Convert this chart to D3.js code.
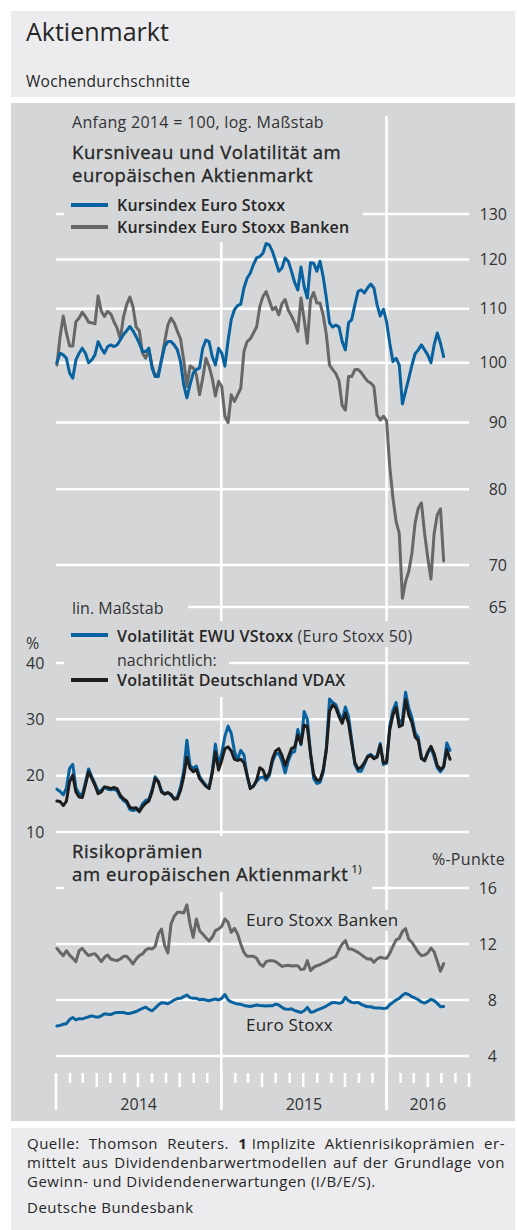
<!DOCTYPE html>
<html>
<head>
<meta charset="utf-8">
<script src="https://cdn.jsdelivr.net/npm/d3@7"></script>
<style>
  body { margin: 0; background: #fff; }
  svg { display: block; font-family: "Open Sans", "Noto Sans", sans-serif; }
</style>
</head>
<body>
<svg id="chart"></svg>
<script>
// Wochendurchschnitte, erste Woche = Freitag 3.1.2014
const weeks = d3.timeFriday.range(new Date(2014, 0, 3), new Date(2016, 7, 1));

// Kursindex, Anfang 2014 = 100 (log. Maßstab)
const kursEuroStoxx = [
  100, 101.7, 101.4, 100.8, 98.2, 97.3, 100.5, 101.7, 102.6, 101.7,
  100, 100.5, 101.4, 103.8, 102.6, 101.7, 102.9, 103.2, 102.9, 103.2,
  104.1, 105.1, 105.8, 106.6, 105.8, 104.7, 103.5, 102, 102, 102.6,
  99.1, 97.6, 97.6, 100.5, 102.9, 103.8, 103.8, 103.2, 102.3, 100.2,
  96.2, 94, 96.2, 98.2, 98.8, 99.1, 102.6, 104.1, 103.8, 101.1,
  99.6, 102.6, 101.7, 99.4, 104, 107.9, 109.8, 110.6, 110.9, 114.1,
  116.1, 117.1, 118.9, 120.3, 120.6, 121.3, 123.4, 123.1, 121.7, 119.6,
  117.5, 118.2, 120.3, 119.6, 117.5, 115.2, 113.7, 118.4, 114.4, 112.1,
  119.3, 119.2, 117.5, 119.6, 116.4, 112.1, 107.3, 106.5, 106.9, 106.5,
  103.8, 102.3, 107.3, 107.9, 110.8, 113.4, 113.7, 113.1, 114.1, 114.9,
  114.1, 110.8, 108.6, 109.9, 107.5, 103.5, 100.2, 100.8, 99.6, 93,
  95.1, 97.3, 99.6, 101.6, 102.3, 103.2, 102.3, 101.4, 100, 103.2,
  105.4, 103.5, 101.1
];
const kursBanken = [
  99.6, 104.7, 108.6, 105.4, 103, 103, 107.5, 108.2, 109.3, 108.5,
  107.4, 107.3, 107.1, 112.5, 109.5, 108.5, 109.5, 109, 107.5, 106.3,
  104.3, 108.4, 110.8, 112.3, 110.4, 106.5, 105.8, 101.7, 100.8, 102.4,
  99.6, 97.6, 98.2, 100.5, 103.8, 106.9, 108.2, 107.3, 105.7, 104.3,
  100.5, 95.9, 99.4, 99.1, 97.9, 94.5, 97.3, 100.8, 99.4, 97.3,
  94.3, 96.8, 95.9, 91, 90, 94.5, 93.4, 94.5, 95.6, 102,
  103.8, 104.3, 105.4, 106.5, 110.4, 112.4, 113.4, 111.6, 109.8, 110.3,
  108.8, 111, 111.8, 109.7, 108.6, 107.3, 105.7, 112.1, 107.9, 103.5,
  111.8, 113.2, 111.1, 111.1, 108.8, 105.1, 99.6, 98.8, 98.1, 96.8,
  92.7, 92, 97.6, 97.6, 98.8, 98.8, 98.3, 97.5, 96.8, 96.5,
  95.9, 91.2, 90.4, 91, 90.3, 83.3, 78.8, 75.6, 74, 66,
  68, 69.2, 71.5, 75.4, 77.4, 78.1, 74, 70.9, 68.3, 74,
  76.5, 77.3, 70.5
];

// Volatilität in % (lin. Maßstab)
const volVStoxx = [
  17.6, 17.2, 16.6, 17.8, 21.3, 22, 17.8, 16.8, 16.5, 18.8,
  21.2, 19.8, 18.6, 17.2, 17.4, 18, 17.6, 17.5, 17.6, 17.3,
  16.2, 15.6, 15.2, 14, 13.8, 14, 13.8, 15, 15.6, 15.8,
  17.4, 19.8, 19, 17.3, 16.8, 17, 16.5, 15.9, 16.2, 18,
  20.8, 26.3, 21.8, 21.3, 21.7, 19.9, 19, 18.3, 17.9, 20.8,
  25.6, 21.8, 24, 27, 28.8, 27.5, 24.4, 22.8, 24.5, 23.7,
  20, 17.8, 18.2, 19, 19.6, 19.8, 19.2, 20, 22.5, 23.8,
  24, 22.6, 20.5, 22.6, 24, 24.3, 28.2, 25.5, 31.4, 30,
  24, 19.5, 18.6, 18.8, 20.6, 25, 33.6, 33, 32.6, 31,
  29.8, 32.2, 30.5, 26.3, 22, 20.8, 20.8, 22, 23.5, 23.8,
  23.2, 23.5, 25.7, 22, 22.2, 28.8, 31.6, 33, 29.3, 30,
  34.8, 32, 30.3, 27.6, 26.8, 23.2, 22.6, 24, 25, 23.3,
  21.4, 20.7, 21.5, 25.8, 24.5
];
const volVDAX = [
  15.5, 15.4, 14.7, 15.5, 18.9, 20.1, 17.1, 16.2, 16.1, 18.3,
  20.7, 19.5, 18.3, 16.8, 17.1, 18, 17.9, 17.7, 17.9, 17.7,
  16.5, 15.9, 15.5, 14.4, 14.2, 14.3, 13.6, 14.5, 15.1, 15.5,
  17.1, 19.5, 18.9, 17.1, 16.7, 17, 16.7, 15.8, 15.9, 17.4,
  19.8, 23.3, 21.3, 20.7, 21.1, 19.5, 18.8, 18.1, 17.7, 20.4,
  24.2, 21, 22.7, 24.8, 25.1, 24.4, 22.9, 22.7, 22.9, 22.3,
  20.1, 17.7, 18.1, 19.2, 21.4, 21, 19.6, 20.4, 23, 24.4,
  24.8, 23.6, 21.8, 23.3, 24.8, 25.1, 27.2, 25.7, 29, 28.7,
  23.9, 20.2, 19.2, 19.2, 21, 24.5, 31.4, 32.6, 32, 30.5,
  29.3, 31.1, 29.3, 25.7, 22.3, 21.2, 21.5, 22.3, 23.3, 23.6,
  23, 23.3, 25.4, 22.3, 22.4, 28.1, 30.8, 32.1, 28.7, 29,
  33.5, 30.8, 29.4, 26.9, 26.2, 23, 22.7, 24.2, 25.2, 23.9,
  21.8, 21.1, 21.6, 24.6, 22.9
];

// Risikoprämien in %-Punkten
const praemieBanken = [
  11.69, 11.4, 11.17, 11.52, 11.2, 10.98, 10.74, 11.52, 11.69, 11.4,
  11.17, 11.26, 11.31, 11.05, 10.74, 11.05, 11.21, 10.93, 10.86, 10.81,
  10.93, 11.12, 11.12, 10.88, 10.57, 10.93, 11.17, 11.29, 11.57, 11.69,
  11.64, 11.83, 12.71, 13.07, 11.88, 11.36, 13.43, 13.98, 14.26, 14.26,
  14.21, 14.8, 13.43, 12.48, 13.79, 12.95, 12.71, 12.45, 12.21, 12.48,
  12.95, 13.07, 13.26, 13.79, 13.55, 12.83, 13.12, 12.71, 12, 11.4,
  11.12, 11.12, 11.12, 10.98, 10.57, 10.4, 10.74, 10.81, 10.81, 10.74,
  10.57, 10.4, 10.45, 10.48, 10.43, 10.45, 10.45, 10.17, 10.21, 10.81,
  10.1, 10.33, 10.45, 10.52, 10.64, 10.74, 10.88, 11, 11.12, 11.6,
  12, 12.24, 11.64, 11.64, 11.52, 11.4, 11.24, 11.07, 10.93, 10.95,
  10.69, 10.93, 11.05, 11, 10.98, 11.33, 11.83, 12.29, 12.4, 12.9,
  13.1, 12.33, 12.12, 11.76, 11.4, 11.17, 11.21, 11.36, 11.71, 11.45,
  10.76, 10.05, 10.6
];
const praemieEuroStoxx = [
  6.14, 6.19, 6.27, 6.31, 6.6, 6.75, 6.58, 6.67, 6.65, 6.72,
  6.8, 6.87, 6.8, 6.77, 6.87, 7.01, 6.99, 6.96, 7.06, 7.11,
  7.11, 7.11, 7.04, 7.04, 7.11, 7.18, 7.3, 7.4, 7.49, 7.33,
  7.23, 7.42, 7.64, 7.81, 7.78, 7.73, 7.86, 8, 8.1, 8.12,
  8.24, 8.36, 8.17, 8.12, 8.12, 8.02, 8.05, 8, 7.95, 8.02,
  8.07, 8, 8.12, 8.39, 8, 7.86, 7.78, 7.71, 7.69, 7.61,
  7.57, 7.54, 7.59, 7.64, 7.61, 7.59, 7.57, 7.59, 7.59, 7.71,
  7.64, 7.47, 7.35, 7.33, 7.37, 7.25, 7.18, 7.11, 7.23, 7.47,
  7.13, 7.16, 7.28, 7.37, 7.45, 7.57, 7.71, 7.83, 7.81, 7.76,
  7.83, 8.19, 7.95, 7.83, 7.81, 7.83, 7.69, 7.59, 7.52, 7.52,
  7.45, 7.42, 7.42, 7.4, 7.42, 7.66, 7.83, 8, 8.12, 8.34,
  8.48, 8.39, 8.24, 8.14, 8.02, 7.86, 7.78, 7.9, 8.05, 7.95,
  7.76, 7.52, 7.54
];

// Achsenbeschriftungen
const kursTicks = [130, 120, 110, 100, 90, 80, 70, 65];
const volTicks = [40, 30, 20, 10];
const praemieTicks = [16, 12, 8, 4];
const jahre = ["2014", "2015", "2016"];

// Farben
const panelFill = "#d5d6d8";
const boxFill = "#ececee";
const blau = "#0862a0";
const grau = "#676767";
const schwarz = "#1d1d1d";
const textFill = "#262626";

const svg = d3.select("#chart").attr("width", 517).attr("height", 1230);

// Hintergründe
svg.append("rect").attr("x", 11).attr("y", 11).attr("width", 504).attr("height", 86).attr("fill", boxFill);
svg.append("rect").attr("x", 11).attr("y", 103).attr("width", 504).attr("height", 1018).attr("fill", panelFill);
svg.append("rect").attr("x", 11).attr("y", 1128).attr("width", 504).attr("height", 102).attr("fill", boxFill);

// Skalen
const x = d3.scaleTime()
  .domain([new Date(2014, 0, 1), new Date(2016, 6, 1)])
  .range([56, 469]);
const yKurs = d3.scaleLog().domain([65, 130]).range([607, 214]);
const yVol = d3.scaleLinear().domain([10, 40]).range([832, 663]);
const yPraemie = d3.scaleLinear().domain([4, 16]).range([1056, 888]);

const grid = svg.append("g").attr("stroke", "#fff").attr("stroke-width", 2.5);

// horizontale Gitterlinien
[[yKurs, kursTicks], [yVol, volTicks], [yPraemie, praemieTicks]].forEach(([scale, ticks]) => {
  grid.selectAll(null).data(ticks).enter().append("line")
    .attr("x1", x.range()[0]).attr("x2", x.range()[1])
    .attr("y1", d => scale(d)).attr("y2", d => scale(d));
});

// Jahresgrenzen über die ganze Höhe
const jahresStart = [new Date(2015, 0, 1), new Date(2016, 0, 1)];
grid.selectAll(null).data(jahresStart).enter().append("line")
  .attr("x1", d => x(d)).attr("x2", d => x(d))
  .attr("y1", 116).attr("y2", 1110);

// Monatsstriche unten
const monate = d3.timeMonth.range(new Date(2014, 0, 1), new Date(2016, 6, 2));
grid.selectAll(null).data(monate).enter().append("line")
  .attr("x1", d => x(d)).attr("x2", d => x(d))
  .attr("y1", 1073)
  .attr("y2", d => d.getMonth() === 0 ? 1110 : (d.getMonth() % 3 === 0 ? 1087 : 1083));

// Flächen hinter Legenden und Überschriften (verdecken das Gitter)
const masken = [
  [64, 113, 299, 129],   // Anfang 2014 ... / Überschrift / Legende
  [56, 596, 132, 22],    // lin. Maßstab
  [64, 621, 362, 26],    // VStoxx
  [64, 647, 165, 24],    // nachrichtlich:
  [64, 671, 298, 26],    // VDAX
  [64, 836, 308, 56],    // Risikoprämien
  [243, 910, 157, 21]    // Euro Stoxx Banken
];
svg.selectAll(null).data(masken).enter().append("rect")
  .attr("x", d => d[0]).attr("y", d => d[1])
  .attr("width", d => d[2]).attr("height", d => d[3])
  .attr("fill", panelFill);

// Linien
function zeichneLinie(werte, yScale, farbe) {
  const line = d3.line()
    .x((d, i) => x(weeks[i]))
    .y(d => yScale(d));
  svg.append("path")
    .datum(werte)
    .attr("d", line)
    .attr("fill", "none")
    .attr("stroke", farbe)
    .attr("stroke-width", 3)
    .attr("stroke-linejoin", "round")
    .attr("stroke-linecap", "round");
}
zeichneLinie(kursBanken, yKurs, grau);
zeichneLinie(kursEuroStoxx, yKurs, blau);
zeichneLinie(volVStoxx, yVol, blau);
zeichneLinie(volVDAX, yVol, schwarz);
zeichneLinie(praemieBanken, yPraemie, grau);
zeichneLinie(praemieEuroStoxx, yPraemie, blau);

// Textfunktion
function txt(xp, yp, s, size, opts = {}) {
  const t = svg.append("text")
    .attr("x", xp).attr("y", yp)
    .attr("font-size", size)
    .attr("font-weight", opts.weight || 400)
    .attr("fill", opts.fill || textFill)
    .attr("text-anchor", opts.anchor || "start")
    .attr("letter-spacing", opts.ls || 0)
    .text(s);
  if (opts.medium) t.attr("stroke", opts.fill || textFill).attr("stroke-width", 0.35);
  return t;
}

// Kopf
txt(26, 41, "Aktienmarkt", 25);
txt(26, 87, "Wochendurchschnitte", 15.5, { ls: 0.3 });

// Achsenwerte
svg.selectAll(null).data(kursTicks).enter().append("text")
  .attr("x", 507).attr("y", d => yKurs(d)).attr("dy", "0.35em")
  .attr("text-anchor", "end").attr("font-size", 16).attr("fill", "#333")
  .text(d => d);
svg.selectAll(null).data(volTicks).enter().append("text")
  .attr("x", 26).attr("y", d => yVol(d)).attr("dy", "0.35em")
  .attr("font-size", 16).attr("fill", "#333")
  .text(d => d);
svg.selectAll(null).data(praemieTicks).enter().append("text")
  .attr("x", 497).attr("y", d => yPraemie(d)).attr("dy", "0.35em")
  .attr("text-anchor", "end").attr("font-size", 16).attr("fill", "#333")
  .text(d => d);
txt(26, 649, "%", 16, { fill: "#333" });
txt(505, 865, "%-Punkte", 16, { anchor: "end", fill: "#333", ls: 0.3 });

// Jahreszahlen mittig zwischen den Jahresgrenzen
const jahresMitte = [
  [new Date(2014, 0, 1), new Date(2015, 0, 1)],
  [new Date(2015, 0, 1), new Date(2016, 0, 1)],
  [new Date(2016, 0, 1), new Date(2016, 6, 1)]
];
svg.selectAll(null).data(jahre).enter().append("text")
  .attr("x", (d, i) => (x(jahresMitte[i][0]) + x(jahresMitte[i][1])) / 2)
  .attr("y", 1110)
  .attr("text-anchor", "middle").attr("font-size", 16).attr("fill", "#333")
  .text(d => d);

// Oberer Teil: Überschrift und Legende
txt(72, 128, "Anfang 2014 = 100, log. Maßstab", 16, { fill: "#333", ls: 0.3 });
txt(72, 159, "Kursniveau und Volatilität am", 18.5, { medium: true, ls: 0.55 });
txt(72, 182, "europäischen Aktienmarkt", 18.5, { medium: true, ls: 0.55 });

function legendenStrich(yp, farbe) {
  svg.append("line").attr("x1", 71).attr("x2", 108).attr("y1", yp).attr("y2", yp)
    .attr("stroke", farbe).attr("stroke-width", 4);
}
legendenStrich(205, blau);
txt(117, 211, "Kursindex Euro Stoxx", 16, { weight: 600, ls: 0.2 });
legendenStrich(227, grau);
txt(117, 233, "Kursindex Euro Stoxx Banken", 16, { weight: 600, ls: 0.2 });

txt(72, 614, "lin. Maßstab", 16, { fill: "#333" });
legendenStrich(635, blau);
const vs = txt(117, 642, "Volatilität EWU VStoxx", 16, { weight: 600, ls: 0.2 });
vs.append("tspan").attr("font-weight", 400).attr("fill", "#333").text(" (Euro Stoxx 50)");
txt(117, 666, "nachrichtlich:", 16, { fill: "#333" });
legendenStrich(680, schwarz);
txt(117, 686, "Volatilität Deutschland VDAX", 16, { weight: 600, ls: 0.2 });

// Unterer Teil
txt(72, 858, "Risikoprämien", 18.5, { medium: true, ls: 0.6 });
const ra = txt(72, 881, "am europäischen Aktienmarkt", 18.5, { medium: true, ls: 0.6 });
ra.append("tspan").attr("font-size", 11).attr("dx", 3).attr("dy", -8).attr("stroke-width", 0.2).text("1)");
txt(246, 926, "Euro Stoxx Banken", 17, { ls: 0.2 });
txt(246, 1031, "Euro Stoxx", 17, { ls: 0.2 });

// Fußnote (Blocksatz)
const fussSize = 15;
const fussLs = 0.5;
function neuerText() {
  return svg.append("text").attr("font-size", fussSize).attr("letter-spacing", fussLs).attr("fill", textFill);
}
function breite(teile) {
  const t = neuerText();
  teile.forEach(p => t.append("tspan").attr("font-weight", p.b ? 700 : 400).text(p.t));
  const w = t.node().getComputedTextLength();
  t.remove();
  return w;
}
function blocksatz(yp, woerter, x0, x1) {
  const w = woerter.map(breite);
  const luecke = (x1 - x0 - d3.sum(w)) / (woerter.length - 1);
  let xp = x0;
  woerter.forEach((teile, i) => {
    const t = neuerText().attr("x", xp).attr("y", yp);
    teile.forEach(p => t.append("tspan").attr("font-weight", p.b ? 700 : 400).text(p.t));
    xp += w[i] + luecke;
  });
}
const zeile1 = [
  [{ t: "Quelle:" }], [{ t: "Thomson" }], [{ t: "Reuters." }],
  [{ t: "1", b: true }, { t: " Implizite" }], [{ t: "Aktienrisikoprämien" }], [{ t: "er-" }]
];
const zeile2 = "mittelt aus Dividendenbarwertmodellen auf der Grundlage von".split(" ").map(s => [{ t: s }]);
blocksatz(1149, zeile1, 27, 505);
blocksatz(1168, zeile2, 27, 505);
neuerText().attr("x", 27).attr("y", 1187).text("Gewinn- und Dividendenerwartungen (I/B/E/S).");
neuerText().attr("x", 27).attr("y", 1213).text("Deutsche Bundesbank");
</script>
</body>
</html>
